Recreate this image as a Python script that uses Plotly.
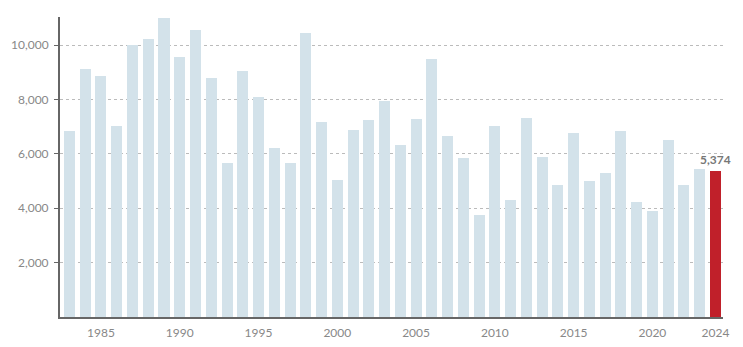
import plotly.graph_objects as go

years = list(range(1983, 2025))
values = [
    6850, 9120, 8860, 7030, 10000, 10220, 11000, 9560, 10550, 8790,
    5670, 9050, 8090, 6220, 5670, 10450, 7180, 5050, 6890, 7250,
    7950, 6330, 7290, 9480, 6640, 5850, 3760, 7030, 4310, 7320,
    5890, 4860, 6770, 5010, 5300, 6850, 4240, 3910, 6510, 4860,
    5450, 5374,
]
x_ticks = [1985, 1990, 1995, 2000, 2005, 2010, 2015, 2020, 2024]
y_ticks = [2000, 4000, 6000, 8000, 10000]

latest_year = years[-1]
latest_value = values[-1]

colors = ["#d3e2ea"] * (len(years) - 1) + ["#c0202a"]

fig = go.Figure(
    go.Bar(
        x=years,
        y=values,
        marker=dict(color=colors, line=dict(width=0)),
        width=0.7,
        hoverinfo="x+y",
    )
)

fig.add_annotation(
    x=latest_year,
    y=latest_value,
    text=f"<b>{latest_value:,}</b>",
    showarrow=False,
    yanchor="bottom",
    yshift=2,
    font=dict(family="Lato, sans-serif", size=12, color="#777777"),
)

fig.update_layout(
    width=743,
    height=347,
    margin=dict(l=60, r=20, t=17, b=30),
    paper_bgcolor="white",
    plot_bgcolor="white",
    showlegend=False,
    font=dict(family="Lato, sans-serif", size=12, color="#888888"),
    bargap=0,
)

fig.update_xaxes(
    range=[1982.4, 2024.48],
    tickvals=x_ticks,
    ticktext=[str(v) for v in x_ticks],
    showgrid=False,
    showline=True,
    linecolor="#666666",
    linewidth=2,
    ticks="",
    ticklabelstandoff=4,
    automargin=False,
    zeroline=False,
    tickfont=dict(size=12, color="#888888"),
)

fig.update_yaxes(
    range=[0, 11030],
    tickvals=y_ticks,
    tickformat=",",
    showgrid=True,
    gridcolor="#bbbbbb",
    griddash="dot",
    gridwidth=1,
    showline=True,
    linecolor="#666666",
    linewidth=2,
    ticks="outside",
    ticklen=4,
    tickcolor="#666666",
    ticklabelstandoff=3,
    automargin=False,
    zeroline=False,
    tickfont=dict(size=12, color="#888888"),
)

fig.write_html("out.html")
